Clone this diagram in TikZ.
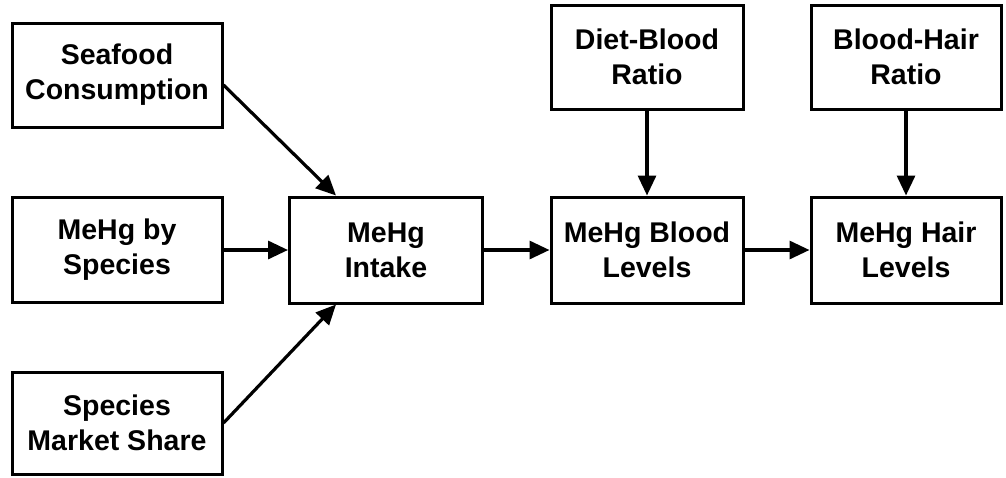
\documentclass[tikz,border=0pt]{standalone}
\usepackage{fontspec}
\setmainfont{Liberation Sans}
\usetikzlibrary{arrows.meta}
\tikzset{
  box/.style={draw, line width=3pt, rectangle, align=center, inner sep=0pt,
    font=\fontsize{28.5}{35}\selectfont\bfseries},
  conn/.style={line width=3.2pt, -{Triangle[length=20pt,width=18pt]}}
}
\begin{document}
\begin{tikzpicture}[x=1pt,y=-1pt]
\useasboundingbox (0,0) rectangle (1006,477);
\node[box, minimum width=210pt, minimum height=104pt] (sea) at (117,75) {Seafood\\Consumption};
\node[box, minimum width=210pt, minimum height=105pt] (spec) at (117,250) {MeHg by\\Species};
\node[box, minimum width=210pt, minimum height=102pt] (mkt) at (117,423) {Species\\Market Share};
\node[box, minimum width=193pt, minimum height=106pt] (intake) at (386,250) {MeHg\\Intake};
\node[box, minimum width=192pt, minimum height=104pt] (dbr) at (647,57) {Diet-Blood\\Ratio};
\node[box, minimum width=192pt, minimum height=106pt] (blood) at (647,250) {MeHg Blood\\Levels};
\node[box, minimum width=190pt, minimum height=104pt] (bhr) at (906,57) {Blood-Hair\\Ratio};
\node[box, minimum width=190pt, minimum height=106pt] (hair) at (906,250) {MeHg Hair\\Levels};
\draw[conn] ([yshift=-10pt]sea.east) -- ([xshift=48pt]intake.north west);
\draw[conn] (spec) -- (intake);
\draw[conn] (mkt.east) -- ([xshift=48pt]intake.south west);
\draw[conn] (intake) -- (blood);
\draw[conn] (blood) -- (hair);
\draw[conn] (dbr) -- (blood);
\draw[conn] (bhr) -- (hair);
\end{tikzpicture}
\end{document}
